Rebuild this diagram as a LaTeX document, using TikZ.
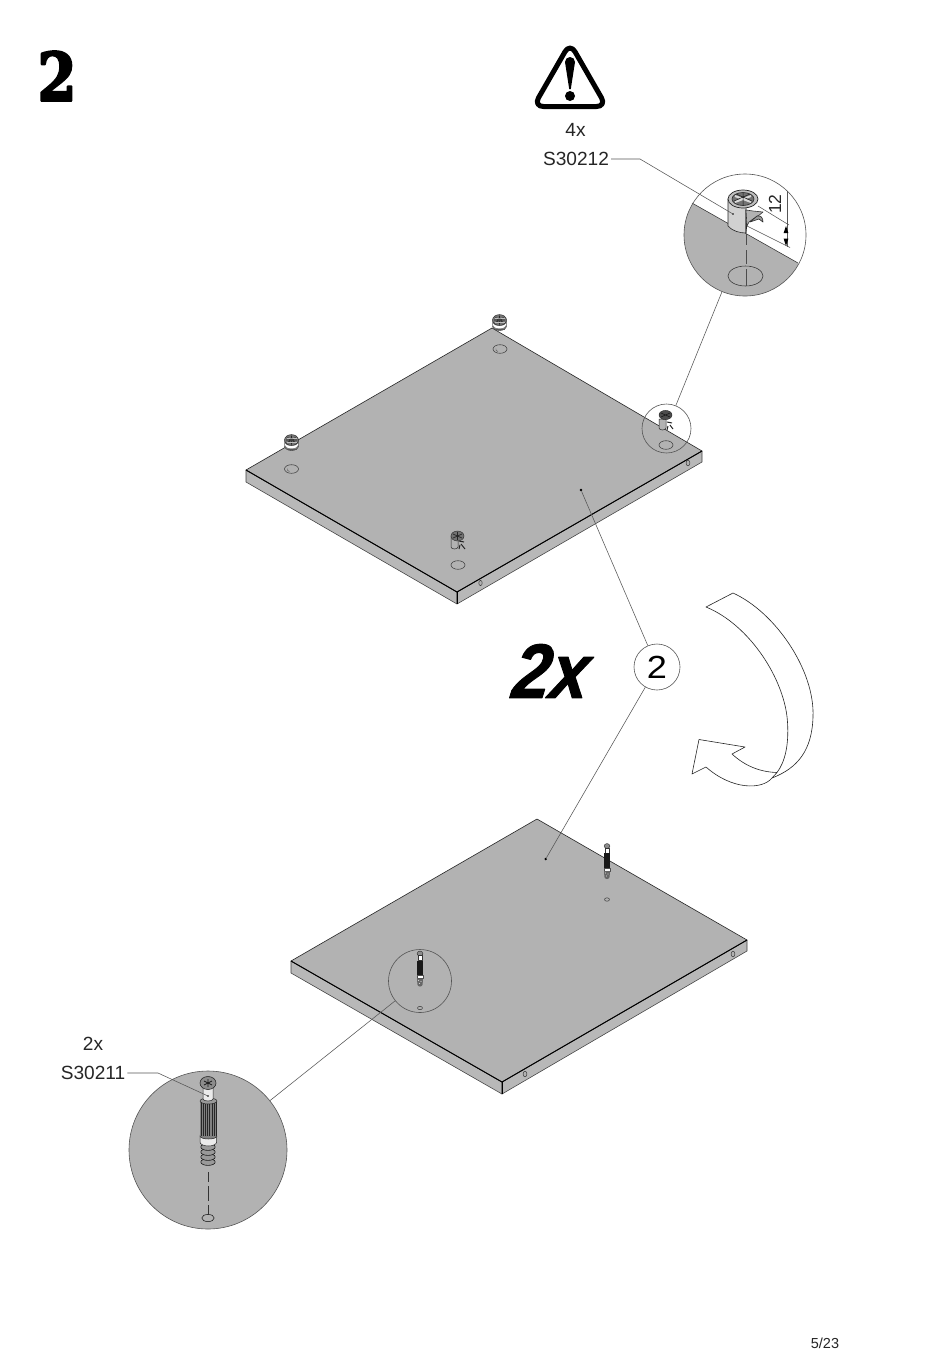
\documentclass[tikz,border=0pt]{standalone}
\usepackage{fontspec}
\setmainfont{Liberation Sans}
\newfontfamily\heavyf{DejaVu Serif}[BoldFeatures={FakeBold=3.6}]
\newfontfamily\twoxf{Liberation Sans}[BoldItalicFeatures={FakeBold=1.3}]
\definecolor{panelgray}{HTML}{B2B2B2}
\definecolor{sidegray}{HTML}{B8B8B8}
\definecolor{linegray}{HTML}{555555}
\begin{document}
\begin{tikzpicture}[x=1pt,y=-1pt,line join=round,
  thin line/.style={line width=.55pt,draw=linegray},
  edge line/.style={line width=.6pt,draw=black!85},
  heavy edge/.style={line width=.95pt,draw=black},
  panel face/.style={fill=panelgray,edge line},
  side face/.style={fill=sidegray,line width=.55pt,draw=black!75},
  bubble/.style={circle,draw=linegray,line width=.6pt,inner sep=0pt,minimum size=#1},
  leaderdot/.style={circle,fill=black,inner sep=0pt,minimum size=2.6pt},
  label text/.style={font=\fontsize{19.1}{20}\selectfont,inner sep=0pt,text=black!85},
  holeedge/.style={line width=.55pt,draw=black!75,fill=panelgray},
  pics/camhead/.style={code={
    \fill[black!50] (-7,1) -- (-7,6) arc[start angle=180,end angle=0,x radius=7,y radius=4.5] -- (7,1) -- cycle;
    \draw[line width=.4pt,draw=black!80] (-7,1) -- (-7,6) arc[start angle=180,end angle=0,x radius=7,y radius=4.5] -- (7,1);
    \fill[white] (-6.5,5) arc[start angle=180,end angle=0,x radius=6.5,y radius=3.4] -- (6.5,3.6) arc[start angle=0,end angle=180,x radius=6.5,y radius=2.2] -- cycle;
    \fill[black!65] (-5,8.6) rectangle (5,10);
    \draw[line width=.4pt,fill=black!55,draw=black!85] (0,0) circle[x radius=7,y radius=5.4];
    \draw[line width=.8pt,draw=black!85] (-4,-2.5) -- (4,2.5) (-4,2.5) -- (4,-2.5) (-5.5,0) -- (5.5,0) (0,-4.5) -- (0,4.5);
    \draw[line width=.4pt,draw=black!25] (-5,-2) -- (5,-2) (-5,2) -- (5,2);
    \fill[black!75] (0,0) circle[x radius=2,y radius=1.5];
  }},
  pics/bolttiny/.style={code={
    \draw[line width=.4pt,draw=black!85,fill=black!45] (0,0) circle[x radius=2.9,y radius=2.4];
    \draw[line width=.4pt,draw=black!80,fill=white] (-1.7,2) rectangle (1.7,7);
    \fill[black!90] (-3,7) rectangle (3,22);
    \draw[line width=.3pt,draw=black!70,fill=white] (-3,22) rectangle (3,25);
    \fill[black!60] (-3,25) -- (3,25) -- (2.6,31) arc[start angle=0,end angle=180,x radius=2.6,y radius=2] -- cycle;
    \fill[white!80!black] (-1.5,27) circle(.6) (1,28) circle(.6) (-.5,30) circle(.6);
  }}
]
\useasboundingbox (0,0) rectangle (950,1353);
\fill[white] (0,0) rectangle (950,1353);

% step number
\node[inner sep=0pt,text=black] (stepnum) at (57,76) {\scalebox{.8}[.95]{\heavyf\bfseries\fontsize{70}{70}\selectfont 2}};

% warning sign
\draw[line width=5pt,draw=black,rounded corners=10pt] (570,43) -- (606.5,106.5) -- (533.5,106.5) -- cycle;
\fill[black] (565,62) arc[start angle=180,end angle=360,radius=5] -- (570.8,89) -- (569.2,89) -- cycle;
\fill[black] (570,96) circle (5);
\node[label text] (count4) at (575.5,130) {4x};
\node[label text] (partA) at (576,159) {S30212};

% ---------- upper panel ----------
\filldraw[side face] (246,470) -- (457,592) -- (457,604) -- (246,482) -- cycle;
\filldraw[side face] (457,592) -- (702,451) -- (702,462) -- (457,604) -- cycle;
\fill[panel face] (246,470) -- (492,328) -- (702,451) -- (457,592) -- cycle;
\draw[heavy edge] (246,470) -- (457,592) -- (702,451);
\draw[heavy edge] (457,592) -- (457,604);
\draw[holeedge] (500,349) circle[x radius=7,y radius=4.3];
\draw[holeedge] (291.5,469) circle[x radius=7,y radius=4.3];
\draw[holeedge] (458,565) circle[x radius=7,y radius=4.3];
\draw[holeedge] (666,445) circle[x radius=7,y radius=4.3];
\draw[holeedge] (480.5,583) circle[x radius=1.7,y radius=2.6];
\draw[holeedge] (688,463) circle[x radius=1.9,y radius=2.8];
\draw[line width=.4pt,draw=black!70] (498,351.5) arc[start angle=90,end angle=200,radius=2.2];
\draw[line width=.4pt,draw=black!70] (289.5,471.5) arc[start angle=90,end angle=200,radius=2.2];
\pic at (499.5,320) {camhead};
\pic at (291.5,440) {camhead};
% cam seen from the side on the panel
\draw[line width=.5pt,draw=black!85,fill=white!70!black] (451,536) -- (451,547) arc[start angle=180,end angle=0,x radius=3.5,y radius=2] -- (458,536) -- cycle;
\draw[line width=1pt,draw=black!85] (459,541) -- (464,542) (461,544) -- (465,549) (460,545) -- (459,549);
\draw[line width=.4pt,draw=black!85,fill=black!55] (457.5,536) circle[x radius=6.5,y radius=5];
\draw[line width=.7pt,draw=black!85] (453,534) -- (462,538) (453,538) -- (462,534) (457.5,532) -- (457.5,540);
% cam in small bubble
\draw[line width=.5pt,draw=black!85,fill=white!70!black] (659,419) -- (659,428) arc[start angle=180,end angle=0,x radius=3.5,y radius=2] -- (666,419) -- cycle;
\draw[line width=1pt,draw=black!85] (667,422) -- (672,423) (670,425) -- (673,429) (668,426) -- (667,430);
\draw[line width=.4pt,draw=black!85,fill=black!70] (665.5,415) circle[x radius=6.5,y radius=4.6];
\draw[line width=.6pt,draw=black!90] (661,413) -- (670,417) (661,417) -- (670,413);
\node[bubble=49pt] (ringA) at (666.5,428.5) {};
\node[leaderdot] (dotUpper) at (581,490) {};

% ---------- number bubble ----------
\node[bubble=46pt,fill=white] (numbub) at (657,667) {\scalebox{1.13}[1]{\fontsize{32}{32}\selectfont 2}};
\node[inner sep=0pt,text=black,xslant=.14,transform shape] (twox) at (552,671) {\scalebox{.88}[1]{\twoxf\bfseries\itshape\fontsize{77}{77}\selectfont 2x}};

% ---------- flip arrow ----------
\draw[line width=.6pt,draw=black!85,fill=white]
  (733,593) .. controls (775,612) and (815,670) .. (813,717)
  .. controls (812,750) and (798,768) .. (772,778)
  .. controls (762,790) and (732,790) .. (706,767)
  -- (692,774) -- (699,739.5) -- (745,747) -- (732,754)
  .. controls (745,766) and (760,772) .. (777,772.5)
  .. controls (785,762) and (789,745) .. (787.5,722)
  .. controls (785,680) and (750,625) .. (706,607) -- cycle;
\draw[line width=.6pt,draw=black!85] (777,772.5) -- (772,778);

% ---------- lower panel ----------
\filldraw[side face] (291,961) -- (502,1082) -- (502,1094) -- (291,973) -- cycle;
\filldraw[side face] (502,1082) -- (747,940) -- (747,951) -- (502,1094) -- cycle;
\fill[panel face] (291,961) -- (537,819) -- (747,940) -- (502,1082) -- cycle;
\draw[heavy edge] (291,961) -- (502,1082) -- (747,940);
\draw[heavy edge] (502,1082) -- (502,1094);
\draw[holeedge] (525,1074) circle[x radius=1.9,y radius=2.8];
\draw[holeedge] (733,954) circle[x radius=1.9,y radius=2.8];
\draw[holeedge] (607,899.5) circle[x radius=2.5,y radius=1.7];
\draw[holeedge] (420,1008) circle[x radius=2.5,y radius=1.7];
\pic at (607,846) {bolttiny};
\pic at (420,953.5) {bolttiny};
\node[bubble=63pt] (ringB) at (420,981) {};
\node[leaderdot] (dotLower) at (545.7,859) {};

% ---------- detail A ----------
\begin{scope}
  \clip (745,235) circle (61);
  \fill[panelgray] (692,203) -- (798,263) -- (820,320) -- (660,320) -- (660,185) -- cycle;
\end{scope}
\draw[line width=.55pt,draw=black!80] (692,203) -- (798,263);
% dimension lines
\draw[thin line] (758,206) -- (789,225);
\draw[thin line] (747,226) -- (790,247.5);
\draw[thin line] (787,191) -- (787,247);
\fill[black] (786,226) -- (783.6,233) -- (788.4,233) -- cycle;
\fill[black] (786,246) -- (783.6,238.5) -- (788.4,238.5) -- cycle;
% hole and axis
\draw[line width=.55pt,draw=black!80,fill=panelgray] (745.5,276) circle[x radius=17.5,y radius=10];
\draw[line width=.55pt,draw=black!70,dash pattern=on 11pt off 5pt on 14pt off 5pt on 18pt] (746,234) -- (746,286);
% cam
\draw[line width=.6pt,draw=black!85,fill=black!18] (728,199) -- (728,226) .. controls (732,231) and (740,233) .. (746,233) -- (746,205) -- cycle;
\draw[line width=.6pt,draw=black!85,fill=white] (746,210) -- (746,233) -- (748,214) -- cycle;
\draw[line width=.6pt,draw=black!80,fill=black!30] (746,210) -- (753,211) -- (763,212) .. controls (760,215) and (754,218) .. (749,222) -- (747,226) -- cycle;
\draw[line width=.6pt,draw=black!85,fill=black!40] (757,216) .. controls (761,215) and (763,218) .. (763,222) -- (759,219) -- (750,222) -- cycle;
\draw[line width=.7pt,draw=black!85,fill=black!25] (743,199) circle[x radius=15,y radius=9];
\draw[line width=.6pt,draw=black!85,fill=black!55] (743,199) circle[x radius=11,y radius=6.5];
\draw[line width=2pt,draw=white!85!black] (735,196) -- (751,202) (735,202) -- (751,196);
\draw[line width=.5pt,draw=black!90] (736,194) -- (752,201) (734,201) -- (750,194) (743,193) -- (743,205);
\node[leaderdot,minimum size=1.8pt] (camdot) at (733,214) {};
\node[bubble=122pt] (detailA) at (745,235) {};
\node[inner sep=0pt,rotate=90,text=black!85,font=\fontsize{17.5}{18}\selectfont] (dim12) at (775,204) {12};

% ---------- detail B ----------
\node[bubble=158pt,fill=panelgray] (detailB) at (208,1150) {};
\draw[line width=.6pt,draw=black!80,dash pattern=on 10pt off 4pt on 15pt off 4pt on 12pt] (208,1172) -- (208,1218);
\draw[line width=.6pt,draw=black!85,fill=panelgray] (208,1218) circle[x radius=6.2,y radius=3.6];
% threads
\foreach \yy in {1162,1157,1152,1147}{
  \draw[line width=.6pt,draw=black!90,fill=black!40] (208,\yy) circle[x radius=7.2,y radius=3.4];
}
\draw[line width=.5pt,draw=black!85,fill=black!8] (200,1135) -- (200,1142) arc[start angle=180,end angle=0,x radius=8.3,y radius=4] -- (216.6,1135) -- cycle;
% knurled body
\fill[black!50] (200,1101) rectangle (217,1136);
\foreach \xx in {201,203.2,205.4,207.6,209.8,212,214.2,216.2}{
  \draw[line width=1pt,draw=black!85] (\xx,1101) -- (\xx,1136);
}
\fill[black!50] (200,1136) arc[start angle=180,end angle=0,x radius=8.5,y radius=3] -- cycle;
\draw[line width=.5pt,draw=black!85] (200,1136) arc[start angle=180,end angle=0,x radius=8.5,y radius=3];
\draw[line width=.5pt,draw=black!85,fill=black!40] (208.5,1101) circle[x radius=8.5,y radius=3];
% neck
\draw[line width=.5pt,draw=black!85,fill=black!8] (203,1086) -- (203,1099) arc[start angle=180,end angle=0,x radius=5,y radius=2] -- (213,1086) -- cycle;
% head
\draw[line width=.6pt,draw=black!85,fill=black!45] (208,1083) circle[x radius=8,y radius=6.5];
\draw[line width=.7pt,draw=black!90] (204,1081) -- (212,1085) (204,1085) -- (212,1081) (208,1079) -- (208,1087);
\fill[black!85] (208,1083) circle (1.2);
\node[leaderdot,minimum size=1.8pt] (boltdot) at (208,1096) {};
\node[label text] (count2) at (93,1044) {2x};
\node[label text] (partB) at (93,1073) {S30211};

% ---------- connectors ----------
\draw[thin line] (ringA) -- (detailA);
\draw[thin line] (ringB) -- (detailB);
\draw[thin line] (numbub) -- (dotUpper);
\draw[thin line] (numbub) -- (dotLower);
\draw[thin line] (partA.east) ++(2,0) -- (640,159) -- (camdot.center);
\draw[thin line] (partB.east) ++(2,0) -- (158,1073) -- (boltdot.center);

\node[inner sep=0pt,text=black!85,font=\fontsize{14.5}{15}\selectfont] (pageno) at (825,1343.5) {5/23};
\end{tikzpicture}
\end{document}
